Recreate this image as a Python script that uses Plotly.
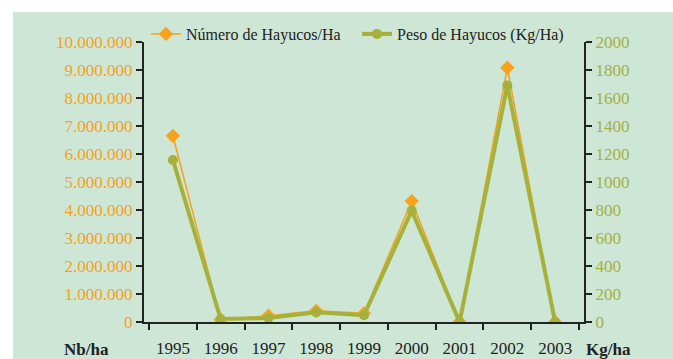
import plotly.graph_objects as go

# Annual beechnut production data
years = ["1995", "1996", "1997", "1998", "1999", "2000", "2001", "2002", "2003"]
numero_hayucos = [6650000, 80000, 225000, 400000, 310000, 4320000, 0, 9080000, 0]  # Nb/ha
peso_hayucos = [1157, 21, 28, 69, 48, 795, 0, 1690, 0]  # Kg/ha

ORANGE = "#f7a21b"
OLIVE = "#a5b13a"
BG = "#cde6d5"
INK = "#222222"
FONT = "Liberation Serif, Times New Roman, DejaVu Serif, serif"

W, H = 673, 359
L, R, T, B = 144, 89, 42, 37
pw, ph = W - L - R, H - T - B


def px_x(x):
    return (x - L) / pw


def px_y(y):
    return (T + ph - y) / ph


fig = go.Figure()
fig.add_trace(go.Scatter(
    x=years, y=numero_hayucos, name="Número de Hayucos/Ha",
    mode="lines+markers",
    line=dict(color=ORANGE, width=1.5),
    marker=dict(symbol="diamond", size=11, color=ORANGE),
    yaxis="y", legend="legend",
))
fig.add_trace(go.Scatter(
    x=years, y=peso_hayucos, name="Peso de Hayucos (Kg/Ha)",
    mode="lines+markers",
    line=dict(color=OLIVE, width=4),
    marker=dict(symbol="circle", size=10, color=OLIVE),
    yaxis="y2", legend="legend2",
))

# green panel behind the chart
fig.add_shape(type="rect", xref="paper", yref="paper", layer="below",
              x0=px_x(13), x1=px_x(W), y0=px_y(H), y1=px_y(12),
              fillcolor=BG, line=dict(width=0))

legend_common = dict(orientation="h", xanchor="left", yanchor="middle",
                     bgcolor="rgba(0,0,0,0)", itemwidth=30,
                     font=dict(family=FONT, size=16, color=INK))

axis_common = dict(ticks="outside", ticklen=6, tickwidth=1.5, tickcolor=INK,
                   showline=True, linecolor=INK, linewidth=2,
                   showgrid=False, zeroline=False)

fig.update_layout(
    width=W, height=H,
    margin=dict(l=L, r=R, t=T, b=B, autoexpand=False),
    paper_bgcolor="white", plot_bgcolor="rgba(0,0,0,0)",
    separators=",.",
    font=dict(family=FONT, size=17, color=INK),
    showlegend=True,
    legend=dict(x=px_x(146), y=px_y(34), **legend_common),
    legend2=dict(x=px_x(357), y=px_y(34), **legend_common),
    xaxis=dict(type="category", tickson="boundaries", ticklabelstandoff=10,
               tickfont=dict(family=FONT, size=17, color=INK), **axis_common),
    yaxis=dict(range=[0, 10000000], dtick=1000000, tickformat=",d",
               tickfont=dict(family=FONT, size=17, color=ORANGE), **axis_common),
    yaxis2=dict(range=[0, 2000], dtick=200, tickformat="d",
                overlaying="y", side="right",
                tickfont=dict(family=FONT, size=17, color=OLIVE), **axis_common),
)

for label, xpx in (("Nb/ha", 86), ("Kg/ha", 608)):
    fig.add_annotation(text="<b>" + label + "</b>", xref="paper", yref="paper",
                       x=px_x(xpx), y=px_y(349),
                       xanchor="center", yanchor="middle",
                       showarrow=False,
                       font=dict(family=FONT, size=17, color=INK))

fig.write_html("out.html")
